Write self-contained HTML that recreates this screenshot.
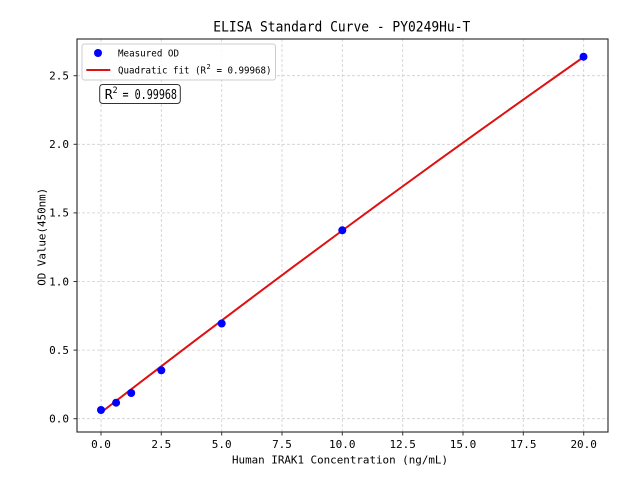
<!DOCTYPE html>
<html>
<head>
<meta charset="utf-8">
<style>
html,body{margin:0;padding:0;background:#fff;}
svg{display:block;}
text{font-family:"DejaVu Sans Mono","Liberation Mono","WenQuanYi Zen Hei",monospace;fill:#000;}
</style>
</head>
<body>
<svg width="640" height="480" viewBox="0 0 640 480" xmlns="http://www.w3.org/2000/svg">
<rect x="0" y="0" width="640" height="480" fill="#fff"/>
<!-- grid -->
<g stroke="#cfcfcf" stroke-width="0.8" stroke-dasharray="3,2" fill="none">
<line x1="101" y1="39" x2="101" y2="432"/>
<line x1="161.3" y1="39" x2="161.3" y2="432"/>
<line x1="221.7" y1="39" x2="221.7" y2="432"/>
<line x1="282" y1="39" x2="282" y2="432"/>
<line x1="342.3" y1="39" x2="342.3" y2="432"/>
<line x1="402.7" y1="39" x2="402.7" y2="432"/>
<line x1="463" y1="39" x2="463" y2="432"/>
<line x1="523.3" y1="39" x2="523.3" y2="432"/>
<line x1="583.7" y1="39" x2="583.7" y2="432"/>
<line x1="77" y1="418.7" x2="608" y2="418.7"/>
<line x1="77" y1="350.1" x2="608" y2="350.1"/>
<line x1="77" y1="281.5" x2="608" y2="281.5"/>
<line x1="77" y1="212.9" x2="608" y2="212.9"/>
<line x1="77" y1="144.3" x2="608" y2="144.3"/>
<line x1="77" y1="75.7" x2="608" y2="75.7"/>
</g>
<!-- fit line -->
<polyline fill="none" stroke="#e01010" stroke-width="2" points="101,412.5 149.27,375.42 197.53,338.68 245.8,302.28 294.07,266.22 342.33,230.5 390.6,195.12 438.87,160.08 487.13,125.38 535.4,91.02 583.67,57"/>
<!-- points -->
<g fill="#0000ff">
<circle cx="101" cy="410" r="4"/>
<circle cx="116.1" cy="402.7" r="4"/>
<circle cx="131.2" cy="393" r="4"/>
<circle cx="161.3" cy="370.3" r="4"/>
<circle cx="221.7" cy="323.5" r="4"/>
<circle cx="342.3" cy="230.3" r="4"/>
<circle cx="583.5" cy="56.7" r="4"/>
</g>
<!-- spines -->
<rect x="77" y="39" width="531" height="393" fill="none" stroke="#222" stroke-width="1.1"/>
<!-- ticks -->
<g stroke="#333" stroke-width="1">
<line x1="101" y1="432" x2="101" y2="435.5"/>
<line x1="161.3" y1="432" x2="161.3" y2="435.5"/>
<line x1="221.7" y1="432" x2="221.7" y2="435.5"/>
<line x1="282" y1="432" x2="282" y2="435.5"/>
<line x1="342.3" y1="432" x2="342.3" y2="435.5"/>
<line x1="402.7" y1="432" x2="402.7" y2="435.5"/>
<line x1="463" y1="432" x2="463" y2="435.5"/>
<line x1="523.3" y1="432" x2="523.3" y2="435.5"/>
<line x1="583.7" y1="432" x2="583.7" y2="435.5"/>
<line x1="73.5" y1="418.7" x2="77" y2="418.7"/>
<line x1="73.5" y1="350.1" x2="77" y2="350.1"/>
<line x1="73.5" y1="281.5" x2="77" y2="281.5"/>
<line x1="73.5" y1="212.9" x2="77" y2="212.9"/>
<line x1="73.5" y1="144.3" x2="77" y2="144.3"/>
<line x1="73.5" y1="75.7" x2="77" y2="75.7"/>
</g>
<!-- x tick labels -->
<g font-size="11" text-anchor="middle">
<text x="101" y="448">0.0</text>
<text x="161.3" y="448">2.5</text>
<text x="221.7" y="448">5.0</text>
<text x="282" y="448">7.5</text>
<text x="342.3" y="448">10.0</text>
<text x="402.7" y="448">12.5</text>
<text x="463" y="448">15.0</text>
<text x="523.3" y="448">17.5</text>
<text x="583.7" y="448">20.0</text>
</g>
<!-- y tick labels -->
<g font-size="11" text-anchor="end">
<text x="69" y="422.5">0.0</text>
<text x="69" y="353.9">0.5</text>
<text x="69" y="285.3">1.0</text>
<text x="69" y="216.7">1.5</text>
<text x="69" y="148.1">2.0</text>
<text x="69" y="79.5">2.5</text>
</g>
<!-- axis labels -->
<text x="232" y="463.5" font-size="11" textLength="216" lengthAdjust="spacingAndGlyphs">Human IRAK1 Concentration (ng/mL)</text>
<text transform="translate(45.5,236.8) rotate(-90)" x="0" y="0" font-size="11" text-anchor="middle" textLength="98" lengthAdjust="spacingAndGlyphs">OD Value(450nm)</text>
<!-- title -->
<text x="213.3" y="31.7" font-size="14" textLength="257" lengthAdjust="spacingAndGlyphs">ELISA Standard Curve - PY0249Hu-T</text>
<!-- legend -->
<rect x="82" y="44" width="193.5" height="36" rx="2.5" ry="2.5" fill="#fff" fill-opacity="0.85" stroke="#cccccc" stroke-width="1"/>
<circle cx="98" cy="53" r="4" fill="#0000ff"/>
<line x1="86.3" y1="70" x2="110.3" y2="70" stroke="#e01010" stroke-width="2"/>
<text x="118" y="56.5" font-size="10" textLength="61" lengthAdjust="spacingAndGlyphs">Measured OD</text>
<text x="118" y="73.7" font-size="10" textLength="88" lengthAdjust="spacingAndGlyphs">Quadratic fit (R</text>
<text x="206.5" y="69" font-size="7">2</text>
<text x="216.5" y="73.7" font-size="10" textLength="55" lengthAdjust="spacingAndGlyphs">=&#160;0.99968)</text>
<!-- R2 box -->
<rect x="99.7" y="84.5" width="80.6" height="19" rx="3" ry="3" fill="#fff" stroke="#333" stroke-width="1"/>
<text x="104.7" y="99" font-size="13">R</text>
<text x="112.5" y="93" font-size="8.5">2</text>
<text x="122.5" y="99" font-size="13" textLength="54.5" lengthAdjust="spacingAndGlyphs">=&#160;0.99968</text>
</svg>
</body>
</html>
